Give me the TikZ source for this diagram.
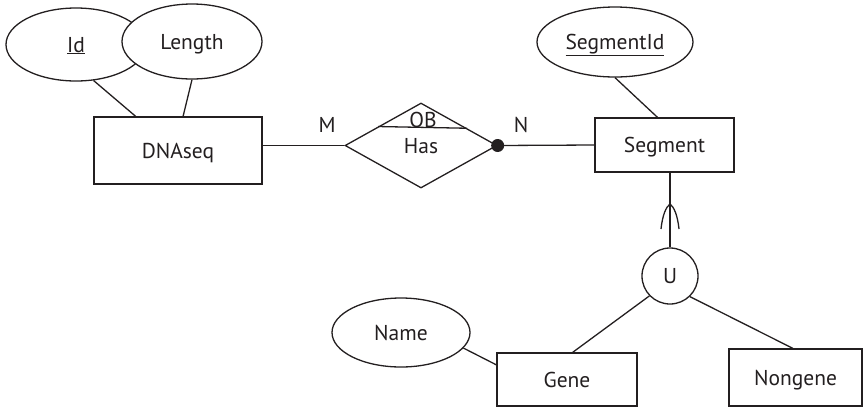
\documentclass[tikz,border=0pt]{standalone}
\usepackage{fontspec}
\setmainfont{PT Sans}
\usetikzlibrary{shapes.geometric,calc}
\definecolor{ink}{HTML}{231F20}
\begin{document}
\begin{tikzpicture}[x=1pt,y=-1pt,color=ink,line width=1.3pt,
  every node/.style={font=\fontsize{21.5}{26}\selectfont,inner sep=0pt,
    text height=15pt,text depth=0pt},
  entity/.style={draw,rectangle},
  attr/.style={draw,ellipse,fill=white},
  rel/.style={draw,diamond},
  card/.style={},
  subset/.style={draw,circle,minimum size=56pt}]
\useasboundingbox (0,0) rectangle (864,408);

% attributes of DNAseq
\node[attr,minimum width=140pt,minimum height=73pt] (id) at (76,44.5) {\underline{Id}};
\node[attr,minimum width=140pt,minimum height=75pt] (len) at (192,41.5) {Length};

% entities
\node[entity,minimum width=168pt,minimum height=67pt] (dna) at (178,150.5) {DNAseq};
\node[entity,minimum width=139pt,minimum height=54pt] (seg) at (664.5,145) {Segment};
\node[entity,minimum width=140pt,minimum height=53pt] (gene) at (567,379.5) {Gene};
\node[entity,minimum width=133pt,minimum height=57pt] (nongene) at (795.5,377.5) {Nongene};

% key of Segment and attribute of Gene
\node[attr,minimum width=156pt,minimum height=70pt] (segid) at (615,42) {\underline{SegmentId}};
\node[attr,minimum width=138pt,minimum height=69pt] (name) at (401,332.5) {Name};

% relationship
\node[rel,minimum width=152pt,minimum height=85pt] (has) at (421,145.5) {Has};
\node (ob) at (423,119.5) {OB};
\draw ($(has.west)!0.44!(has.north)$) -- ($(has.north)!0.6!(has.east)$);

% cardinalities
\node[card] (m) at (327,125) {M};
\node[card] (n) at (521,125) {N};

% union node
\node[subset] (u) at (670,276) {U};

% connectors
\draw (id.-64) -- ($(dna.north west)!0.25!(dna.north east)$);
\draw (len.south) -- ($(dna.north west)!0.53!(dna.north east)$);
\draw (dna.east |- has.west) -- (has.west);
\draw (has.east) -- (seg.west);
\fill (has.east) circle[radius=6.5pt];
\draw (segid.south) -- ($(seg.north west)!0.45!(seg.north east)$);
\draw (u.north) -- (u.north |- seg.south);
\draw (661,229) .. controls (662.5,215) and (666,207) .. (670,204)
      .. controls (674,207) and (677.5,215) .. (679,229);
\draw (u.224) -- ($(gene.north west)!0.54!(gene.north east)$);
\draw (u.-46) -- ($(nongene.north west)!0.48!(nongene.north east)$);
\draw (name.-14) -- ($(gene.north west)!0.23!(gene.south west)$);
\end{tikzpicture}
\end{document}
